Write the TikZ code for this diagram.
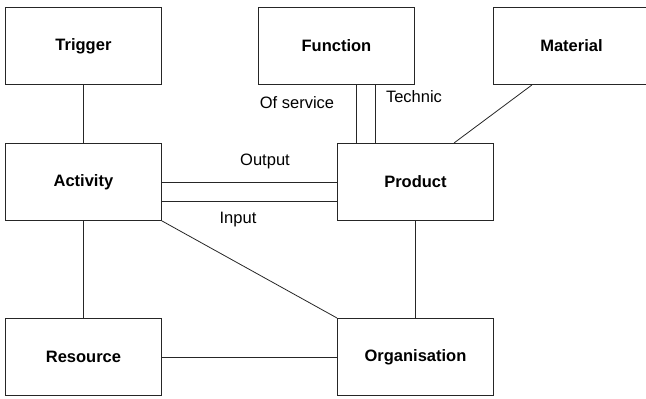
\documentclass[tikz,border=0pt]{standalone}
\usepackage{fontspec}
\setmainfont{Liberation Sans}
\begin{document}
\begin{tikzpicture}[x=1pt,y=-1pt,
  box/.style={draw=black!85,line width=0.9pt,minimum width=156pt,minimum height=77pt,inner sep=0pt,font=\fontsize{16.5}{19}\selectfont\bfseries,anchor=north west},
  lbl/.style={font=\fontsize{16.5}{19}\selectfont,inner sep=0pt},
  conn/.style={draw=black!85,line width=0.8pt}]
\useasboundingbox (0,0) rectangle (646,399);
\node[box] (trigger) at (5,7) {Trigger};
\node[box] (function) at (258,7) {Function};
\node[box] (material) at (493,7) {Material};
\node[box] (activity) at (5,143) {Activity};
\node[box] (product) at (337,143) {Product};
\node[box] (resource) at (5,318) {Resource};
\node[box] (organisation) at (337,318) {Organisation};
% connectors
\draw[conn] (trigger.south) -- (activity.north);
\draw[conn] ([xshift=19pt]product.north west) -- ([xshift=19pt]product.north west |- function.south);
\draw[conn] ([xshift=38pt]product.north west) -- ([xshift=38pt]product.north west |- function.south);
\draw[conn] ([xshift=39pt]material.south west) -- ([xshift=117pt]product.north west);
\draw[conn] (activity.east) -- (product.west);
\draw[conn] ([yshift=-19.5pt]activity.east) -- ([yshift=-19.5pt]product.west);
\draw[conn] (activity.south east) -- (organisation.north west);
\draw[conn] (activity.south) -- (resource.north);
\draw[conn] (product.south) -- (organisation.north);
\draw[conn] (resource.east) -- (organisation.west);
% labels
\node[lbl] (ofservice) at (297,103) {Of service};
\node[lbl] (technic) at (414,97) {Technic};
\node[lbl] (output) at (265,161) {Output};
\node[lbl] (input) at (238,220) {Input};
\end{tikzpicture}
\end{document}
